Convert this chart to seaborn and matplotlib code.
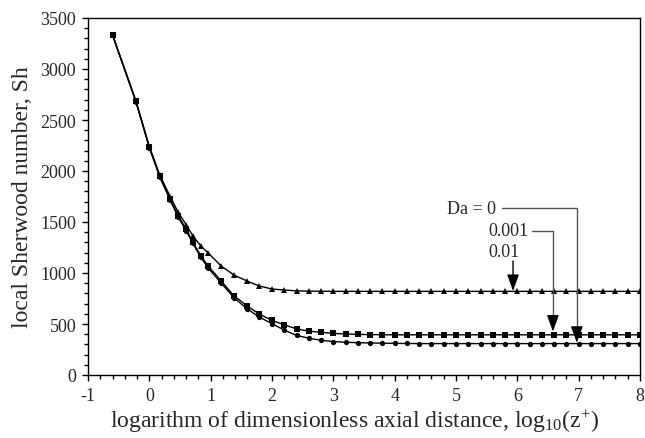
import numpy as np
import pandas as pd
import seaborn as sns
import matplotlib.pyplot as plt
from matplotlib.ticker import MultipleLocator

# log10(z+) positions of the computed points
log_z = [-0.6, -0.22, 0.0, 0.17, 0.34, 0.47, 0.6, 0.71, 0.84, 0.96,
         1.17, 1.38, 1.59, 1.79, 2.0, 2.2, 2.4, 2.6, 2.8, 3.0,
         3.2, 3.4, 3.6, 3.8, 4.0, 4.2, 4.4, 4.6, 4.8, 5.0,
         5.2, 5.4, 5.6, 5.8, 6.0, 6.2, 6.4, 6.6, 6.8, 7.0,
         7.2, 7.4, 7.6, 7.8, 8.0]

sh_da_0 = [3333, 2680, 2228, 1940, 1712, 1548, 1415, 1290, 1152, 1049,
           902, 757, 651, 569, 503, 440, 388, 361, 340, 328,
           321, 317, 314, 312, 310, 309, 308, 308, 308, 308,
           308, 308, 308, 308, 308, 308, 308, 308, 308, 308,
           308, 308, 308, 308, 308]

sh_da_0001 = [3333, 2686, 2235, 1951, 1725, 1562, 1431, 1304, 1167, 1069,
              922, 777, 679, 598, 535, 492, 452, 430, 418, 408,
              402, 398, 396, 395, 394, 394, 394, 394, 394, 394,
              394, 394, 394, 394, 394, 394, 394, 394, 394, 394,
              394, 394, 394, 394, 394]

sh_da_001 = [3333, 2690, 2240, 1960, 1750, 1595, 1475, 1363, 1265, 1196,
             1069, 980, 922, 873, 843, 833, 825, 822, 821, 820,
             820, 820, 820, 820, 820, 820, 820, 820, 820, 820,
             820, 820, 820, 820, 820, 820, 820, 820, 820, 820,
             820, 820, 820, 820, 820]

da_labels = ["0", "0.001", "0.01"]

df = pd.concat([
    pd.DataFrame({"x": log_z, "Sh": sh_da_0, "Da": "0"}),
    pd.DataFrame({"x": log_z, "Sh": sh_da_0001, "Da": "0.001"}),
    pd.DataFrame({"x": log_z, "Sh": sh_da_001, "Da": "0.01"}),
])

sns.set_style("ticks")
plt.rcParams['font.family'] = ['Liberation Serif', 'DejaVu Serif']
plt.rcParams['mathtext.fontset'] = 'custom'
plt.rcParams['mathtext.rm'] = 'Liberation Serif'
plt.rcParams['mathtext.it'] = 'Liberation Serif'
plt.rcParams['axes.unicode_minus'] = False

fig = plt.figure(figsize=(6.45, 4.39), dpi=100)
ax = fig.add_axes([88 / 645, 1 - 376 / 439, 552 / 645, 357 / 439])

sns.lineplot(data=df, x="x", y="Sh", hue="Da", style="Da",
             hue_order=da_labels, style_order=da_labels,
             palette=["black"] * 3, markers={"0": "o", "0.001": "s", "0.01": "^"},
             dashes=False, estimator=None, sort=False,
             lw=1, markersize=3.8, markeredgewidth=0, legend=False, ax=ax)

ax.set_xlim(-1, 8)
ax.set_ylim(0, 3500)
ax.xaxis.set_major_locator(MultipleLocator(1))
ax.xaxis.set_minor_locator(MultipleLocator(0.2))
ax.yaxis.set_major_locator(MultipleLocator(500))
ax.yaxis.set_minor_locator(MultipleLocator(100))
ax.tick_params(which='major', direction='out', length=4.5, width=1, labelsize=13,
               color='black', pad=4)
ax.tick_params(which='minor', direction='out', length=2.8, width=1, color='black')
for s in ax.spines.values():
    s.set_color('black')
    s.set_linewidth(1)

ax.set_xlabel(r'logarithm of dimensionless axial distance, log$_{10}$(z$^{+}$)', fontsize=17)
ax.set_ylabel('local Sherwood number, Sh', fontsize=17)
ax.xaxis.set_label_coords(0.483, -0.09)
ax.yaxis.set_label_coords(-0.1, 0.5)

# annotations
grey = '#555555'
ax.text(4.85, 1637, 'Da = 0', fontsize=13, va='center', ha='left')
ax.text(5.52, 1412, '0.001', fontsize=13, va='center', ha='left')
ax.text(5.52, 1206, '0.01', fontsize=13, va='center', ha='left')

ax.plot([5.75, 6.97, 6.97], [1637, 1637, 420], color=grey, lw=1)
ax.plot([6.24, 6.58, 6.58], [1412, 1412, 520], color=grey, lw=1)

arrow = dict(arrowstyle='-|>,head_length=1.0,head_width=0.36', color='black',
             lw=1, shrinkA=0, shrinkB=0)
ax.annotate('', xy=(6.97, 315), xytext=(6.97, 440), arrowprops=arrow)
ax.annotate('', xy=(6.58, 425), xytext=(6.58, 540), arrowprops=arrow)
ax.annotate('', xy=(5.93, 823), xytext=(5.93, 1118), arrowprops=arrow)

plt.savefig('out.png', dpi=100)
